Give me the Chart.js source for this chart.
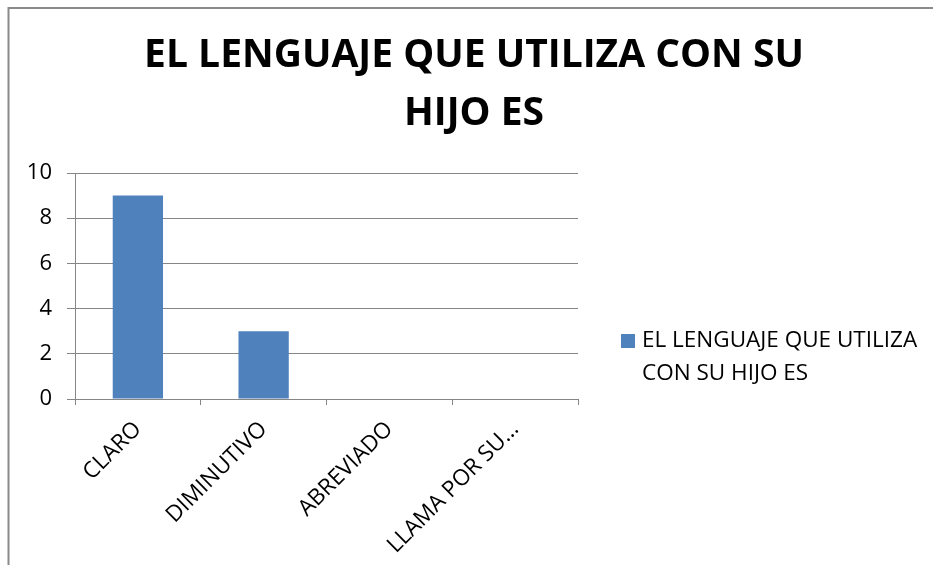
<!DOCTYPE html>
<html>
<head>
<meta charset="utf-8">
<script src="https://cdn.jsdelivr.net/npm/chart.js@4/dist/chart.umd.min.js"></script>
<style>
  html, body { margin: 0; padding: 0; background: #ffffff; }
  canvas { display: block; }
</style>
</head>
<body>
<canvas id="c" width="933" height="565"></canvas>
<script>
// ---- data ----
const categories = ['CLARO', 'DIMINUTIVO', 'ABREVIADO', 'LLAMA POR SU…'];
const values = [9, 3, 0, 0];
const seriesName = 'EL LENGUAJE QUE UTILIZA CON SU HIJO ES';
const titleLines = ['EL LENGUAJE QUE UTILIZA CON SU', 'HIJO ES'];
const legendLines = ['EL LENGUAJE QUE UTILIZA', 'CON SU HIJO ES'];
const yTickValues = [0, 2, 4, 6, 8, 10];

// ---- style ----
const BAR_COLOR = '#4F81BD';
const GRID_COLOR = '#868686';
const FONT = "'Open Sans', 'DejaVu Sans', sans-serif";

const decorPlugin = {
  id: 'decor',
  beforeDraw(chart) {
    const ctx = chart.ctx;
    ctx.save();
    ctx.fillStyle = '#ffffff';
    ctx.fillRect(0, 0, chart.width, chart.height);
    ctx.strokeStyle = '#8a8a8a';
    ctx.lineWidth = 2;
    ctx.beginPath();
    ctx.moveTo(8.5, chart.height);
    ctx.lineTo(8.5, 8);
    ctx.lineTo(chart.width, 8);
    ctx.stroke();
    ctx.restore();
  },
  afterDraw(chart) {
    const ctx = chart.ctx;
    ctx.save();
    // title
    ctx.fillStyle = '#000000';
    ctx.font = "bold 39px " + FONT;
    ctx.textAlign = 'center';
    ctx.textBaseline = 'middle';
    titleLines.forEach((t, i) => ctx.fillText(t, 474, 56 + i * 58));
    // legend
    const ds = chart.data.datasets[0];
    ctx.fillStyle = ds.backgroundColor;
    ctx.fillRect(621, 334, 14, 14);
    ctx.fillStyle = '#000000';
    ctx.font = "22.5px " + FONT;
    ctx.textAlign = 'left';
    legendLines.forEach((t, i) => ctx.fillText(t, 642, 341 + i * 33));
    ctx.restore();
  }
};

new Chart(document.getElementById('c'), {
  type: 'bar',
  data: {
    labels: categories,
    datasets: [{
      label: seriesName,
      data: values,
      backgroundColor: BAR_COLOR,
      borderWidth: 0,
      categoryPercentage: 1.0,
      barPercentage: 0.4
    }]
  },
  options: {
    responsive: false,
    animation: false,
    events: [],
    layout: { padding: { top: 173, right: 355, left: 0, bottom: 0 } },
    plugins: {
      legend: { display: false },
      title: { display: false },
      tooltip: { enabled: false }
    },
    scales: {
      x: {
        offset: true,
        grid: {
          offset: true,
          drawOnChartArea: false,
          drawTicks: true,
          tickLength: 6,
          color: GRID_COLOR
        },
        border: { display: true, color: GRID_COLOR, width: 1 },
        ticks: {
          color: '#000000',
          font: { family: FONT, size: 22.5 },
          minRotation: 45,
          maxRotation: 45,
          autoSkip: false,
          padding: 11
        },
        afterFit(s) { s.height = 166; }
      },
      y: {
        min: 0,
        max: 10,
        afterBuildTicks(s) { s.ticks = yTickValues.map(v => ({ value: v })); },
        grid: {
          color: GRID_COLOR,
          drawTicks: true,
          tickLength: 8
        },
        border: { display: true, color: GRID_COLOR, width: 1 },
        ticks: {
          color: '#000000',
          font: { family: FONT, size: 22 },
          padding: 15
        },
        afterFit(s) { s.width = 75; }
      }
    }
  },
  plugins: [decorPlugin]
});
</script>
</body>
</html>
